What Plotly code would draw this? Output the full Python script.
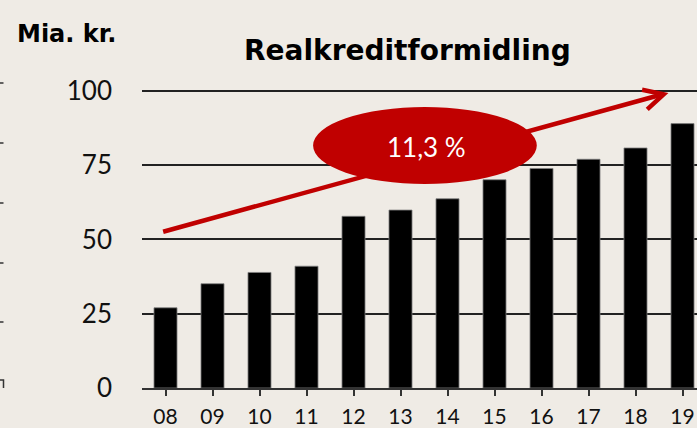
import plotly.graph_objects as go

categories = ["08", "09", "10", "11", "12", "13", "14", "15", "16", "17", "18", "19"]
values = [27.0, 35.1, 38.9, 41.0, 57.8, 59.9, 63.7, 70.1, 73.9, 77.0, 80.8, 89.0]
y_ticks = [0, 25, 50, 75, 100]
title_text = "Realkreditformidling"
unit_text = "Mia. kr."
growth_text = "11,3 %"

BG = "#EFEBE5"
RED = "#C00000"
FONT = "Lato"
BOLD_FONT = "DejaVu Sans"

W, H = 697, 428
ML, MR, MT, MB = 142, 0, 85, 40
PW, PH = W - ML - MR, H - MT - MB


def px(xp):
    return (xp - ML) / PW


def py(yp):
    return (H - MB - yp) / PH


fig = go.Figure()
fig.add_trace(go.Bar(
    x=list(range(len(categories))), y=values,
    marker=dict(color="#000000", line=dict(color="#808080", width=0.8)),
    width=0.49,
))

shapes = []
# arrow line + head (behind ellipse)
shapes.append(dict(type="line", xref="x", yref="y", x0=-0.05, y0=52.6, x1=10.58, y1=98.9,
                   line=dict(color=RED, width=4.5)))
shapes.append(dict(type="path", xref="x", yref="y",
                   path="M 10.14 100.4 L 10.6 98.9 L 10.25 93.8",
                   line=dict(color=RED, width=4.5)))
# ellipse
shapes.append(dict(type="circle", xref="x", yref="y", x0=3.14, x1=7.9, y0=68.7, y1=94.6,
                   fillcolor=RED, line=dict(width=0)))
# remnants of a neighbouring chart at left edge
for yp in [83, 143, 203, 263, 322]:
    shapes.append(dict(type="line", xref="paper", yref="paper", x0=px(0), x1=px(3.5),
                       y0=py(yp), y1=py(yp), line=dict(color="#333333", width=1.5)))
shapes.append(dict(type="path", xref="paper", yref="paper",
                   path=f"M {px(0)} {py(380)} L {px(3.5)} {py(380)} L {px(3.5)} {py(388)}",
                   line=dict(color="#333333", width=1.5)))

annotations = [
    dict(text=f"<b>{title_text}</b>", xref="paper", yref="paper", x=px(407), y=py(50),
         showarrow=False, font=dict(family=BOLD_FONT, size=28, color="#000000"),
         xanchor="center", yanchor="middle"),
    dict(text=f"<b>{unit_text}</b>", xref="paper", yref="paper", x=px(15), y=py(34),
         showarrow=False, font=dict(family=BOLD_FONT, size=24, color="#000000"),
         xanchor="left", yanchor="middle"),
    dict(text=growth_text, xref="x", yref="y", x=5.55, y=81.0,
         showarrow=False, font=dict(family=FONT, size=26, color="#FFFFFF"),
         xanchor="center", yanchor="middle"),
]

fig.update_layout(
    width=W, height=H,
    margin=dict(l=ML, r=MR, t=MT, b=MB, pad=0),
    paper_bgcolor=BG, plot_bgcolor=BG,
    showlegend=False,
    shapes=shapes, annotations=annotations,
    bargap=0.51,
)
fig.update_xaxes(
    automargin=False,
    range=[-0.5, -0.5 + PW / 47.0],
    tickmode="array", tickvals=list(range(len(categories))), ticktext=categories,
    tickson="boundaries", ticks="outside", ticklen=6, tickwidth=1.5, tickcolor="#333333",
    showline=True, linecolor="#333333", linewidth=1.5,
    showgrid=False, zeroline=False,
    tickfont=dict(family=FONT, size=21, color="#111111"),
    ticklabelstandoff=3,
)
fig.update_yaxes(
    automargin=False,
    range=[0, 102], tickmode="array", tickvals=y_ticks,
    showgrid=True, gridcolor="#222222", gridwidth=1.5,
    zeroline=False, showline=False, ticks="",
    tickfont=dict(family=FONT, size=26, color="#111111"),
    ticklabelstandoff=29,
)

fig.write_html(
    "out.html",
    config={"displayModeBar": False},
    post_script="document.body.style.margin='0';document.body.style.overflow='hidden';",
)
